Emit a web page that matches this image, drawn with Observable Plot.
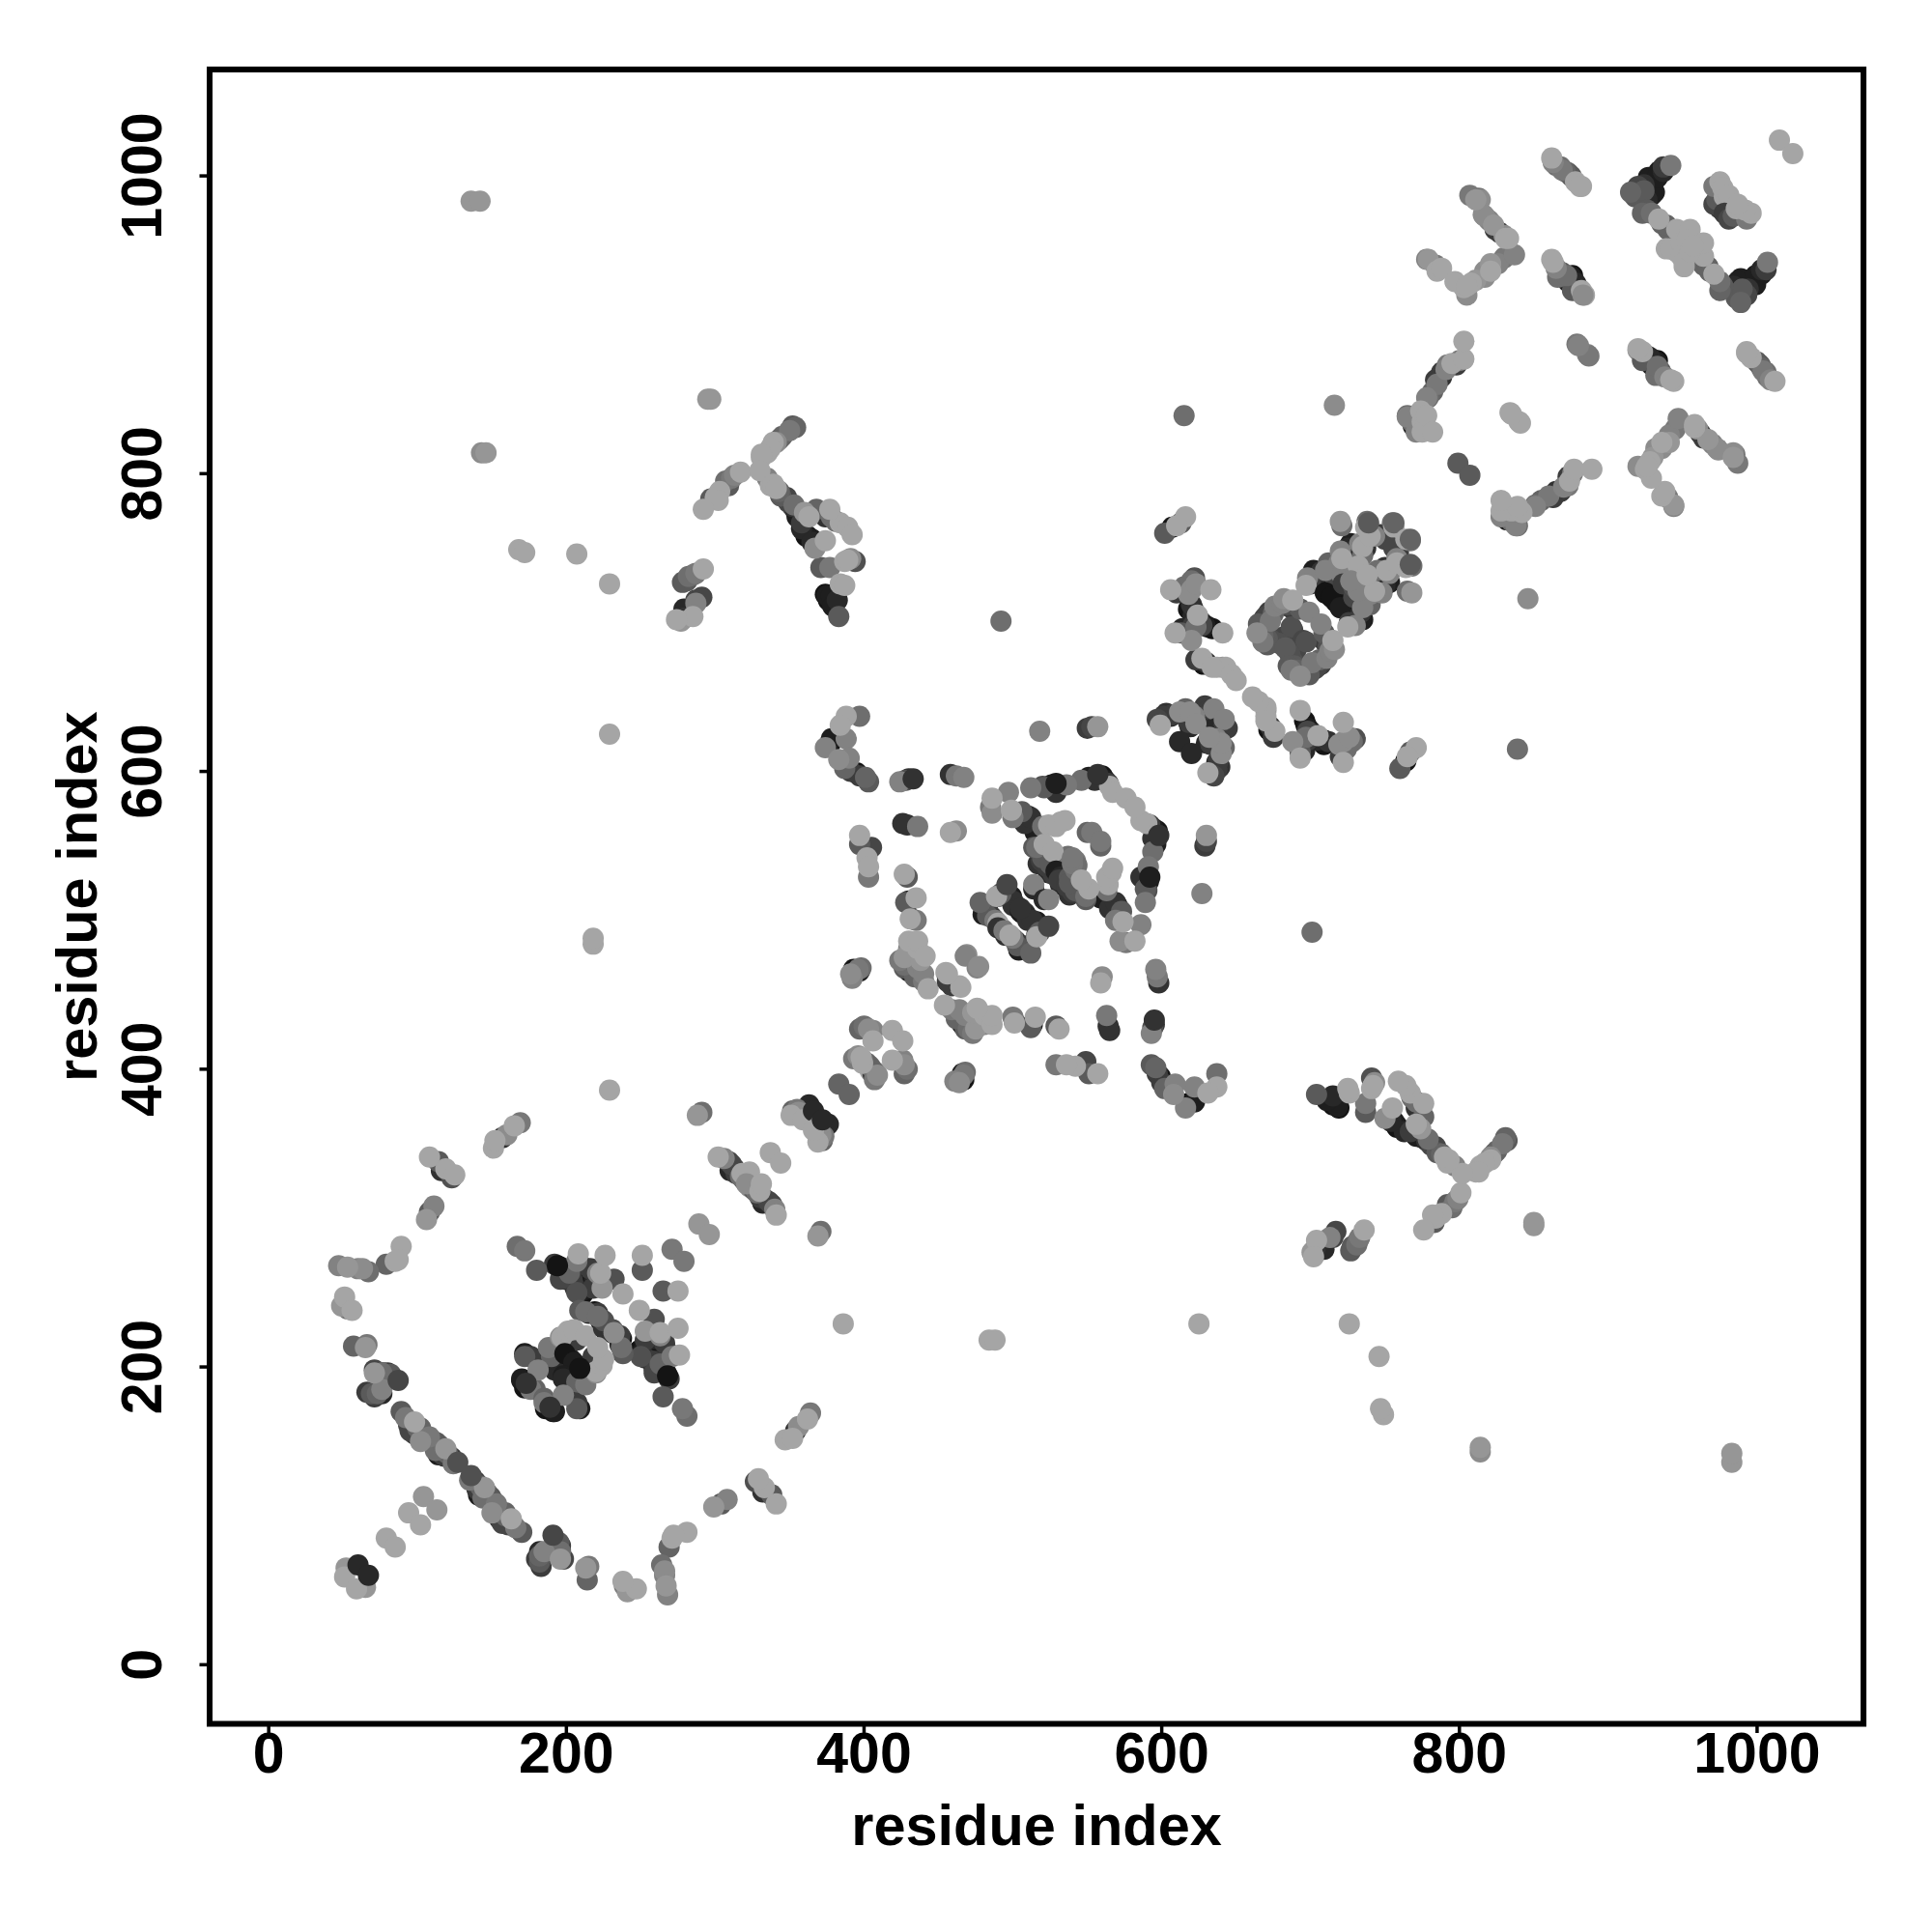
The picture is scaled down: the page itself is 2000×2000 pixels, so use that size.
<!DOCTYPE html>
<html>
<head>
<meta charset="utf-8">
<style>html,body{margin:0;padding:0;background:#fff}svg{display:block}</style>
<script src="https://cdn.jsdelivr.net/npm/d3@7"></script>
<script src="https://cdn.jsdelivr.net/npm/@observablehq/plot@0.6"></script>
</head>
<body>
<div id="chart"></div>
<script>
// Each entry: [residue i, residue j, grey level]. The contact map is symmetric, so one triangle is listed.
const underBundle = [[94,161,70],[97,156,60],[100,159,100],[105,154,100],[111,150,70],[114,141,30],[120,142,100],[123,139,60],[118,140,50],[71,198,70],[77,196,50],[80,196,60],[66,183,60],[71,180,60],[76,182,40],
[192,269,60],[196,267,30],[199,259,30],[202,263,100],[206,253,50],[211,249,20],[207,271,120],[209,269,60],[213,264,20],[219,259,40],[223,263,165],[209,238,90],[215,236,40],[219,237,20],[226,225,50],[231,223,30],[234,221,110],
[172,209,30],[170,192,30],[172,186,20],[176,185,120],[188,213,120],[196,213,20],[201,207,20],[203,205,30],[192,202,30],[194,198,30],[188,202,40],[197,220,165],[201,224,165]];
const underBand = [[309,338,70],[310,332,40],[313,333,60],[318,330,165],[319,326,90],[323,321,140],[352,372,100],[355,373,120],[363,376,40],[357,369,100],[393,407,120],[397,406,60],[402,404,100],[404,399,165],[397,427,100],[403,427,140]];
const underCentre = [[397,597,60],[403,593,90],[478,512,100],[482,510,60],[488,500,120],[490,516,60],[499,516,30],[500,510,50],[506,505,30],[495,490,50],[483,503,90],
[516,549,110],[520,542,90],[517,538,50],[524,532,40],[527,531,60],[529,538,90],[534,542,110],[538,540,120],[542,540,120],[533,529,30],[508,565,50],[512,569,50],[515,559,30],[532,566,165],[521,589,90],[529,586,50],[555,594,50],[560,597,20],[564,592,60],[565,590,165],
[430,475,110],[427,475,150],[432,471,60],[436,468,130],[438,473,150],[436,481,165],[440,459,120],[430,486,165],[427,468,90],[432,501,60],[394,465,60],[391,464,140],[397,466,30]];
const underBlocks = [[698,730,130],[697,725,165],[705,732,20],[707,726,20],[712,720,20],[715,717,20],[720,710,20],[712,740,100],[719,740,130],[727,753,30],[720,748,130],[735,745,110],[735,751,165],[737,764,165],[743,758,130],[747,759,60],[724,737,90],[717,729,70],[724,729,80],[726,722,60],
[665,699,90],[667,696,50],[670,704,70],[668,691,100],[672,707,60],[676,711,130],[682,716,140],[684,712,80],[689,712,80],[688,709,60],[693,709,90],[671,689,90],[674,688,80],[683,683,90],[687,697,80],
[615,724,110],[620,722,140],[620,728,110],[620,712,50],[618,709,20],[621,704,40],[614,696,40],[616,693,20],[621,698,60],[627,700,30],[629,698,30],[634,696,20],[623,675,60],[630,673,50],[637,670,165],[643,670,165],
[603,639,50],[597,635,70],[607,638,60],[616,642,100],[622,637,130],[618,633,60],[629,637,40],[629,644,60]];
const underCorner = [[807,987,120],[811,984,150],[814,984,140],[817,973,140],[820,970,130],[824,964,60],[831,958,165],[778,944,130],[785,936,165],[803,925,165],[808,928,165],[817,936,140],[821,941,150],[830,945,120],
[863,1009,130],[868,1006,110],[871,1003,100],[875,1000,90],[878,996,165],[882,993,165],[862,944,165],[865,938,130],[866,932,110],[871,932,50],[876,933,20],[873,929,30],[878,928,40],[882,923,165],[876,923,90],
[765,839,110],[768,835,110],[771,828,130],[778,831,165],[775,835,165],[774,842,165],[778,851,130],[782,855,100],[784,863,60],[788,865,50],[791,870,130],[795,874,165],[800,876,120],
[915,989,100],[918,986,90],[920,993,70],[924,994,50],[927,999,30],[930,996,20],[934,1003,30],[937,1006,60],[931,989,30],[926,984,40],[923,975,100],[929,975,110],[936,968,100],[940,964,100],[946,964,165],[955,964,165],[939,951,165],[946,949,165],[971,993,120],[971,981,70],[978,986,165]];
const underArm = [[352,832,90],[343,823,100],[339,821,165],[335,814,165],[307,795,110],[313,799,130],[300,784,165],[337,792,165],[343,788,100],[348,784,70],[352,778,50],[354,775,30],[360,774,150],[358,763,40],[361,758,20],[365,754,40],[368,776,100],[374,771,50],[378,771,110],[384,767,165],[375,718,30],[376,715,20],[380,713,20],[384,726,165],[387,741,165],[391,743,140],[281,728,90],[285,732,110],[279,709,40],[287,715,70],[277,701,150]];

const firstBundle = [[47,268,130],[53,267,150],[60,266,130],[63,266,140],[67,264,110],[79,269,100],[85,271,165],[89,281,165],[87,272,165],
[51,247,165],[49,241,150],[53,239,120],[56,238,165],[57,214,100],[66,215,120],[65,213,150],
[71,196,150],[76,196,110],[82,195,90],[69,182,90],[73,182,100],[76,185,130],
[89,170,90],[92,166,120],[98,163,165],[102,159,100],[95,157,70],[98,155,60],[102,150,140],[108,153,120],[113,149,90],[110,150,70],[115,147,70],[112,144,110],[119,145,150],[117,141,60],[124,135,120],
[104,113,150],[94,102,165],[79,85,165],[52,65,150],[51,59,165]];
const firstCross = [[167,281,110],[172,278,120],[180,265,90],[208,276,165],[198,264,60],[196,259,70],[204,258,60],[207,250,80],[210,251,30],[211,267,30],[216,266,60],[221,263,130],[223,259,40],[224,253,150],[218,253,60],[232,259,80],[238,249,165],[226,275,165],[251,275,165],[251,265,90],[271,279,120],
[213,237,110],[221,236,60],[223,232,140],[231,225,80],
[172,207,90],[176,207,60],[170,191,20],[179,185,100],[181,198,130],[190,207,100],[192,198,40],[199,213,30],[207,218,60],[196,220,140],[205,225,165],[213,221,165]];
const bandB = [[108,341,165],[114,338,90],[116,332,50],[119,333,165],[123,327,80],[125,329,165],[111,308,130],[108,304,90],[106,299,150],
[151,347,165],[152,352,165],[157,354,50],[160,356,140],[165,362,165],[169,364,120],
[291,371,110],[288,369,150],[289,296,150],[302,341,165],[306,340,130],[311,336,70],[314,330,60],[317,328,110],[323,331,165],[337,344,165],
[351,369,165],[356,371,140],[359,366,165],[362,370,140],[383,390,100],[396,409,140],[398,407,90],[406,399,120],[408,398,165],[400,429,110],[406,426,130],[406,419,165],[419,426,165]];
const sparse = [[136,983,150],[142,983,150],[143,814,140],[146,814,150],[168,749,165],[172,747,165],[207,746,165],[229,726,165],[229,625,165],[229,386,165],[218,484,165],[218,488,165],
[518,627,130],[492,701,110],[615,839,110],[716,846,140],[834,841,165],[840,835,165],[799,807,90],[879,887,120],[886,880,130],[1015,1024,165]];
const shoulderC = [[388,637,165],[397,637,110],[384,631,165],[388,622,130],[378,622,30],[374,616,130],[377,618,20],[383,608,140],[390,609,130],[387,602,100],[391,600,60],[395,599,20],[401,596,100],
[424,593,130],[428,594,80],[430,595,50],[458,598,50],[462,597,120],[467,596,130],[550,629,60],[553,630,70],[557,630,150],
[397,557,165],[397,551,90],[405,549,70],[402,542,165],[403,536,165],[403,529,120],[426,565,50],[429,564,50],[436,563,120],[458,559,165],[462,560,140],
[427,531,165],[429,529,90],[435,515,165],[428,512,90],[430,513,30],[431,501,165],[435,500,120],[436,486,165],[430,481,130],[441,476,165],[424,473,120],[427,470,110],[430,466,30],[434,462,100],[440,464,130],[443,454,165],
[393,467,20],[396,467,120],[398,468,110],[392,461,130],[455,465,165],[459,456,60],[464,456,165],[469,477,140],[476,468,130]];
const centreD = [[486,582,165],[485,576,120],[486,572,140],[497,586,130],[499,574,165],[500,569,120],[512,589,120],[520,590,80],[526,591,30],[536,591,120],[546,594,110],[551,596,30],[562,594,30],[567,586,165],[576,582,165],
[506,573,90],[510,570,30],[514,563,30],[520,563,110],[524,564,165],[529,563,165],[535,567,165],[550,559,100],[553,559,120],
[514,549,90],[521,551,165],[527,546,165],[519,540,60],[523,536,60],[529,532,40],[525,538,90],[537,543,110],
[489,516,165],[492,518,90],[500,513,50],[503,509,40],[508,505,50],[514,521,40],[514,524,130],[483,510,60],[480,504,30],[486,502,50],[490,498,165],[493,494,120]];
const blockE = [[601,637,60],[599,631,165],[606,637,40],[612,640,140],[619,640,140],[623,632,140],[619,630,40],[632,642,60],[635,642,130],[612,620,40],
[616,771,165],[613,767,90],[607,764,20],[610,765,165],[602,760,90],
[606,722,165],[610,720,60],[622,730,80],[618,719,140],[623,726,140],[633,722,165],[621,709,30],[624,705,165],
[609,693,165],[613,693,90],[618,695,20],[620,688,140],[623,697,110],[627,698,70],[631,697,20],[641,693,165],
[627,676,165],[628,672,20],[634,670,165],[641,670,140],[647,665,165],[650,661,165]];
const blockF = [[664,693,140],[667,693,30],[668,687,120],[669,703,60],[671,685,90],[673,701,120],[675,706,100],[679,686,80],[681,690,70],[681,713,130],[685,711,50],[688,715,165],[688,695,70],[699,707,130],
[700,726,60],[702,735,30],[707,734,50],[710,735,130],[710,720,30],[715,737,60],[717,714,20],[721,743,165],[725,750,40],[721,732,130],[728,727,130],[732,738,165],[733,753,130],[737,750,50],[740,758,165],[738,768,110],[720,768,150],[721,765,110],[750,756,70],[755,767,110],[756,764,165]];
const cornerG = [[765,838,130],[769,832,30],[775,828,165],[778,839,165],[782,828,165],[779,851,110],[785,860,120],[788,868,60],[792,873,120],[798,873,60],[803,877,165],[803,889,165],
[779,944,150],[784,940,120],[788,938,165],[797,929,165],[805,926,165],[805,920,140],[811,930,150],[817,932,140],[821,936,165],[826,941,130],[837,947,130],
[813,985,110],[816,974,140],[823,967,150],[827,962,60],[830,960,140],[833,958,165],
[862,1012,165],[865,1007,110],[869,1004,120],[873,1002,90],[881,993,165],[863,942,165],[869,935,90],[872,933,110],[875,932,30],[879,926,40],[884,920,165],
[920,883,140],[924,990,90],[929,987,30],[933,999,30],[937,1003,40],[942,1007,120],[926,977,90],[934,971,165],[939,967,100],[942,951,165],[949,955,165],[953,957,165],
[975,996,165],[973,984,90],[977,992,165],[981,987,165],[975,978,60]];
const armH = [[295,850,150],[297,850,150],[354,831,100],[350,829,120],[345,825,100],[341,821,140],[337,817,165],[331,811,165],[331,813,165],[317,801,165],[311,797,120],[309,792,90],[303,788,165],[297,783,90],[302,782,165],[292,776,165],
[330,802,165],[335,797,130],[339,793,165],[341,790,165],[344,785,90],[349,781,70],[353,779,110],[355,771,30],[358,767,60],[363,771,165],[371,774,50],[377,776,165],[381,768,110],[389,764,165],[392,759,165],[362,758,20],[365,756,30],[374,755,165],[367,750,140],
[371,737,90],[377,737,120],[389,742,165],[394,741,80],[374,719,20],[378,718,30],[387,725,165],[382,715,40],[379,711,30],[383,704,90],
[292,736,165],[287,733,120],[282,731,110],[278,727,90],[291,717,70],[287,713,130],[285,704,165],[279,703,50],[274,702,165]];
// Dark contacts that lie on top of their neighbours in the picture.
const topContacts = [[60,67,40],[87,191,70],[127,136,80],[366,372,40],[199,209,20],[194,268,20],[173,189,50],[557,598,50],[529,592,30],[496,524,70],[433,595,50],[739,767,90],[756,767,100]];

const listed = [...underBundle, ...underBand, ...underCentre, ...underBlocks, ...underCorner, ...underArm,
  ...firstBundle, ...firstCross, ...bandB, ...sparse, ...shoulderC, ...centreD, ...blockE, ...blockF, ...cornerG, ...armH];
const contacts = [...d3.sort(listed, c => c[2]), ...topContacts];
const upperTriangle = contacts.map(([i, j, grey]) => ({x: i, y: j, grey}));
const lowerTriangle = contacts.map(([i, j, grey]) => ({x: j, y: i, grey}));
const tickValues = [0, 200, 400, 600, 800, 1000];
const axisDomain = [-39.7, 1071.5];
const axisTitle = "residue index";
const fontFamily = "'Liberation Sans', Arial, sans-serif";

const chart = Plot.plot({
  width: 2000, height: 2000,
  marginLeft: 216.5, marginRight: 71.4, marginTop: 71.4, marginBottom: 216,
  style: {background: "#fff", fontFamily},
  x: {domain: axisDomain, label: null},
  y: {domain: axisDomain, label: null},
  marks: [
    Plot.dot([...upperTriangle, ...lowerTriangle], {
      x: "x", y: "y", r: 11, stroke: "none",
      fill: d => `rgb(${d.grey},${d.grey},${d.grey})`
    }),
    Plot.frame({stroke: "#000", strokeWidth: 6}),
    Plot.axisX({ticks: tickValues, tickFormat: String, tickSize: 10, strokeWidth: 3.5, tickPadding: -1, label: null,
      fontSize: 59, fontWeight: "bold", fontFamily, fill: "#000"}),
    Plot.axisY({ticks: tickValues, tickFormat: String, tickSize: 10, strokeWidth: 3.5, tickPadding: 40, tickRotate: -90, label: null,
      fontSize: 59, fontWeight: "bold", fontFamily, fill: "#000"}),
    Plot.text([axisTitle], {frameAnchor: "bottom", dy: 125, fontSize: 59.5, fontWeight: "bold", fontFamily, fill: "#000"}),
    Plot.text([axisTitle], {frameAnchor: "left", textAnchor: "middle", dx: -136, rotate: -90, fontSize: 59.5, fontWeight: "bold", fontFamily, fill: "#000"})
  ]
});
document.getElementById("chart").append(chart);
</script>
</body>
</html>
